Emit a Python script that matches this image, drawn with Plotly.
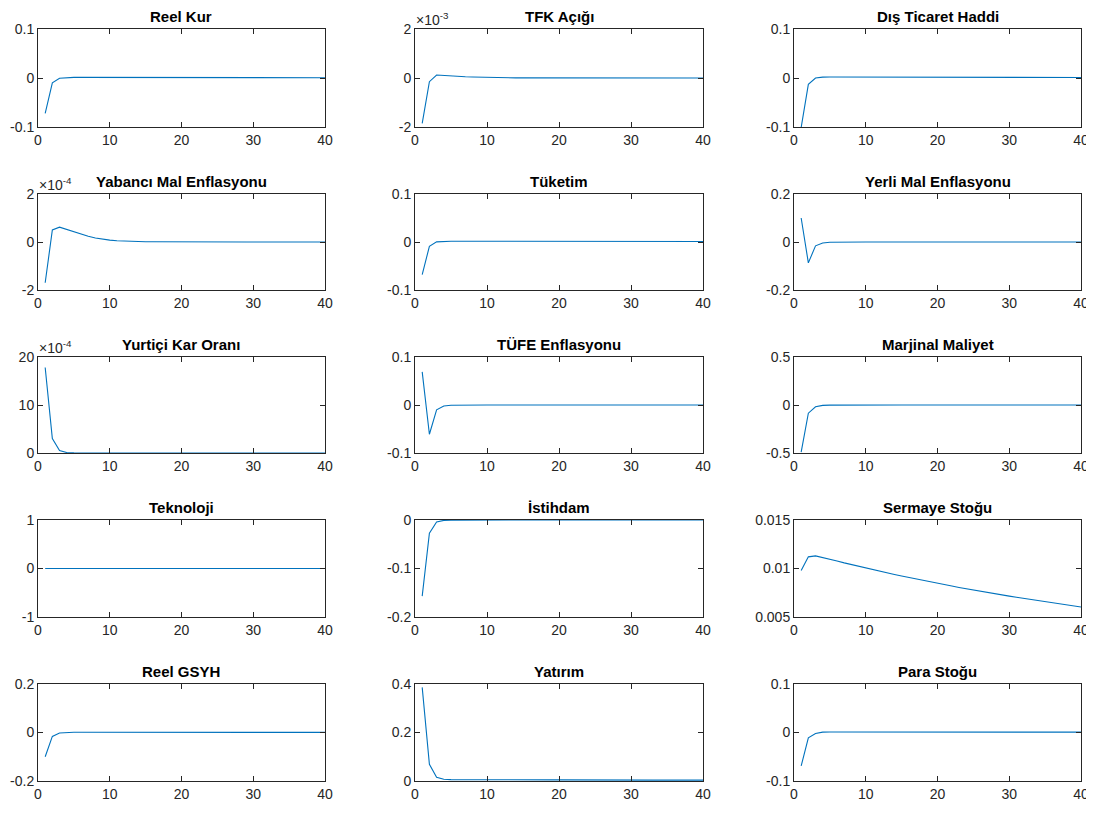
import plotly.graph_objects as go

periods = list(range(1, 41))

titles = ["Reel Kur", "TFK Açığı", "Dış Ticaret Haddi",
          "Yabancı Mal Enflasyonu", "Tüketim", "Yerli Mal Enflasyonu",
          "Yurtiçi Kar Oranı", "TÜFE Enflasyonu", "Marjinal Maliyet",
          "Teknoloji", "İstihdam", "Sermaye Stoğu",
          "Reel GSYH", "Yatırım", "Para Stoğu"]

reel_kur = [-0.072, -0.010, -0.0005, 0.0010,
            0.0012, 0.0012, 0.0012, 0.0012, 0.0012, 0.0012,
            0.0011, 0.0011, 0.0011, 0.0011, 0.0011,
            0.0010, 0.0010, 0.0010, 0.0010, 0.0010,
            0.0009, 0.0009, 0.0009, 0.0009, 0.0009,
            0.0008, 0.0008, 0.0008, 0.0008, 0.0008,
            0.0007, 0.0007, 0.0007, 0.0007, 0.0007,
            0.0006, 0.0006, 0.0006, 0.0006, 0.0006]

tfk_acigi = [-0.00185, -0.00015, 0.00012, 0.00011, 0.00009, 0.00007, 0.00005, 0.00004,
             0.00003, 0.00002, 0.000015, 0.00001, 0.000008, 0.000005, 0.000004, 0.000003,
             0.000002, 0.000001, 0.0, 0.0, 0.0, 0.0, 0.0, 0.0, 0.0, 0.0, 0.0, 0.0,
             0.0, 0.0, 0.0, 0.0, 0.0, 0.0, 0.0, 0.0, 0.0, 0.0, 0.0, 0.0]

dis_ticaret = [-0.101, -0.013, 0.0, 0.0018,
               0.0020, 0.0020, 0.0020, 0.0020,
               0.0019, 0.0019, 0.0019, 0.0019,
               0.0018, 0.0018, 0.0018,
               0.0017, 0.0017, 0.0017,
               0.0016, 0.0016, 0.0016,
               0.0015, 0.0015, 0.0015,
               0.0014, 0.0014, 0.0014,
               0.0013, 0.0013, 0.0013,
               0.0012, 0.0012, 0.0012,
               0.0011, 0.0011, 0.0011, 0.0011,
               0.0010, 0.0010, 0.0010]

yabanci_mal = [-1.7e-4, 0.50e-4, 0.62e-4, 0.52e-4, 0.42e-4, 0.32e-4, 0.24e-4, 0.17e-4,
               0.12e-4, 0.08e-4, 0.055e-4, 0.038e-4, 0.026e-4, 0.018e-4, 0.012e-4, 0.008e-4,
               0.005e-4, 0.003e-4, 0.002e-4, 0.001e-4, 0.0005e-4, 0.0, 0.0, 0.0, 0.0, 0.0,
               0.0, 0.0, 0.0, 0.0, 0.0, 0.0, 0.0, 0.0, 0.0, 0.0, 0.0, 0.0, 0.0, 0.0]

tuketim = [-0.068, -0.009, 0.0002, 0.0015,
           0.0016, 0.0016, 0.0016, 0.0016, 0.0016, 0.0016,
           0.0015, 0.0015, 0.0015, 0.0015, 0.0015, 0.0015,
           0.0014, 0.0014, 0.0014, 0.0014, 0.0014, 0.0014,
           0.0013, 0.0013, 0.0013, 0.0013, 0.0013, 0.0013,
           0.0012, 0.0012, 0.0012, 0.0012, 0.0012, 0.0012,
           0.0011, 0.0011, 0.0011, 0.0011, 0.0011, 0.0011]

yerli_mal = [0.100, -0.087, -0.016, -0.004, -0.001, -0.0003, -0.0001, 0.0,
             0.0, 0.0, 0.0, 0.0, 0.0, 0.0, 0.0, 0.0, 0.0, 0.0, 0.0, 0.0,
             0.0, 0.0, 0.0, 0.0, 0.0, 0.0, 0.0, 0.0, 0.0, 0.0,
             0.0, 0.0, 0.0, 0.0, 0.0, 0.0, 0.0, 0.0, 0.0, 0.0]

yurtici_kar = [17.8e-4, 3.0e-4, 0.5e-4, 0.1e-4, 0.02e-4, 0.005e-4, 0.0, 0.0,
               0.0, 0.0, 0.0, 0.0, 0.0, 0.0, 0.0, 0.0, 0.0, 0.0, 0.0, 0.0,
               0.0, 0.0, 0.0, 0.0, 0.0, 0.0, 0.0, 0.0, 0.0, 0.0,
               0.0, 0.0, 0.0, 0.0, 0.0, 0.0, 0.0, 0.0, 0.0, 0.0]

tufe = [0.069, -0.061, -0.010, -0.002, -0.0005, -0.0001, 0.0, 0.0,
        0.0, 0.0, 0.0, 0.0, 0.0, 0.0, 0.0, 0.0, 0.0, 0.0, 0.0, 0.0,
        0.0, 0.0, 0.0, 0.0, 0.0, 0.0, 0.0, 0.0, 0.0, 0.0,
        0.0, 0.0, 0.0, 0.0, 0.0, 0.0, 0.0, 0.0, 0.0, 0.0]

marjinal_maliyet = [-0.49, -0.085, -0.018, -0.004, -0.001, -0.0002, 0.0, 0.0,
                    0.0, 0.0, 0.0, 0.0, 0.0, 0.0, 0.0, 0.0, 0.0, 0.0, 0.0, 0.0,
                    0.0, 0.0, 0.0, 0.0, 0.0, 0.0, 0.0, 0.0, 0.0, 0.0,
                    0.0, 0.0, 0.0, 0.0, 0.0, 0.0, 0.0, 0.0, 0.0, 0.0]

teknoloji = [0.0, 0.0, 0.0, 0.0, 0.0, 0.0, 0.0, 0.0, 0.0, 0.0,
             0.0, 0.0, 0.0, 0.0, 0.0, 0.0, 0.0, 0.0, 0.0, 0.0,
             0.0, 0.0, 0.0, 0.0, 0.0, 0.0, 0.0, 0.0, 0.0, 0.0,
             0.0, 0.0, 0.0, 0.0, 0.0, 0.0, 0.0, 0.0, 0.0, 0.0]

istihdam = [-0.157, -0.027, -0.004, -0.0008, -0.0002, 0.0, 0.0, 0.0,
            0.0, 0.0, 0.0, 0.0, 0.0, 0.0, 0.0, 0.0, 0.0, 0.0, 0.0, 0.0,
            0.0, 0.0, 0.0, 0.0, 0.0, 0.0, 0.0, 0.0, 0.0, 0.0,
            0.0, 0.0, 0.0, 0.0, 0.0, 0.0, 0.0, 0.0, 0.0, 0.0]

sermaye_stogu = [0.0098, 0.0112, 0.01130, 0.01115, 0.01096, 0.01077, 0.01058, 0.01040,
                 0.01022, 0.01005, 0.00988, 0.00971, 0.00955, 0.00939, 0.00923, 0.00907,
                 0.00892, 0.00877, 0.00862, 0.00847, 0.00833, 0.00819, 0.00805, 0.00791,
                 0.00778, 0.00765, 0.00752, 0.00739, 0.00727, 0.00715, 0.00703, 0.00691,
                 0.00679, 0.00668, 0.00657, 0.00646, 0.00635, 0.00624, 0.00613, 0.00603]

reel_gsyh = [-0.100, -0.016, -0.002, 0.0006,
             0.0008, 0.0008, 0.0008, 0.0008, 0.0008, 0.0008,
             0.0007, 0.0007, 0.0007, 0.0007, 0.0007, 0.0007, 0.0007, 0.0007, 0.0007, 0.0007,
             0.0006, 0.0006, 0.0006, 0.0006, 0.0006, 0.0006, 0.0006, 0.0006, 0.0006, 0.0006,
             0.0005, 0.0005, 0.0005, 0.0005, 0.0005, 0.0005, 0.0005, 0.0005, 0.0005, 0.0005]

yatirim = [0.386, 0.069, 0.015, 0.007, 0.0055, 0.0052,
           0.0050, 0.0050, 0.0050, 0.0050,
           0.0048, 0.0048, 0.0048, 0.0048, 0.0048,
           0.0045, 0.0045, 0.0045, 0.0045, 0.0045,
           0.0042, 0.0042, 0.0042, 0.0042, 0.0042,
           0.0040, 0.0040, 0.0040, 0.0040, 0.0040,
           0.0037, 0.0037, 0.0037, 0.0037, 0.0037,
           0.0035, 0.0035, 0.0035, 0.0035, 0.0035]

para_stogu = [-0.069, -0.011, -0.002, 0.0008,
              0.0010, 0.0010, 0.0010, 0.0010, 0.0010, 0.0010,
              0.0009, 0.0009, 0.0009, 0.0009, 0.0009, 0.0009, 0.0009, 0.0009, 0.0009, 0.0009,
              0.0008, 0.0008, 0.0008, 0.0008, 0.0008, 0.0008, 0.0008, 0.0008, 0.0008, 0.0008,
              0.0007, 0.0007, 0.0007, 0.0007, 0.0007, 0.0007, 0.0007, 0.0007, 0.0007, 0.0007]

series = [reel_kur, tfk_acigi, dis_ticaret, yabanci_mal, tuketim, yerli_mal,
          yurtici_kar, tufe, marjinal_maliyet, teknoloji, istihdam, sermaye_stogu,
          reel_gsyh, yatirim, para_stogu]

# y-axis tick values and labels per panel
y_tickvals = [[-0.1, 0, 0.1], [-0.002, 0, 0.002], [-0.1, 0, 0.1],
              [-2e-4, 0, 2e-4], [-0.1, 0, 0.1], [-0.2, 0, 0.2],
              [0, 10e-4, 20e-4], [-0.1, 0, 0.1], [-0.5, 0, 0.5],
              [-1, 0, 1], [-0.2, -0.1, 0], [0.005, 0.01, 0.015],
              [-0.2, 0, 0.2], [0, 0.2, 0.4], [-0.1, 0, 0.1]]
y_ticktext = [["-0.1", "0", "0.1"], ["-2", "0", "2"], ["-0.1", "0", "0.1"],
              ["-2", "0", "2"], ["-0.1", "0", "0.1"], ["-0.2", "0", "0.2"],
              ["0", "10", "20"], ["-0.1", "0", "0.1"], ["-0.5", "0", "0.5"],
              ["-1", "0", "1"], ["-0.2", "-0.1", "0"], ["0.005", "0.01", "0.015"],
              ["-0.2", "0", "0.2"], ["0", "0.2", "0.4"], ["-0.1", "0", "0.1"]]
exponents = [None, "-3", None, "-4", None, None, "-4", None, None,
             None, None, None, None, None, None]
x_tickvals = [0, 10, 20, 30, 40]
x_ticktext = ["0", "10", "20", "30", "40"]

# page offset of the figure (default body margin)
OFF = 8
W, H = 1094 - OFF, 817 - OFF
col_px = [(38, 325), (415, 703), (794, 1081)]
row_px = [(29, 127), (194, 290), (357, 453), (520, 617), (684, 781)]

FONT = "Liberation Sans Narrow, Arial Narrow, Liberation Sans, Arial, sans-serif"
AX_COLOR = "#262626"
LINE_COLOR = "#0072BD"

fig = go.Figure()
annotations = []
layout_axes = {}

for i, (title, vals) in enumerate(zip(titles, series)):
    r, c = divmod(i, 3)
    n = i + 1
    xs = "" if n == 1 else str(n)
    x0, x1 = col_px[c]
    t, b = row_px[r]
    xdom = [(x0 - OFF) / W, (x1 - OFF) / W]
    ydom = [1 - (b - OFF) / H, 1 - (t - OFF) / H]

    fig.add_trace(go.Scatter(x=periods, y=vals, mode="lines",
                             line=dict(color=LINE_COLOR, width=1.1),
                             xaxis="x" + xs, yaxis="y" + xs,
                             showlegend=False, cliponaxis=True))

    tv = y_tickvals[i]
    common = dict(showline=True, linecolor=AX_COLOR, linewidth=1, mirror="ticks",
                  ticks="inside", ticklen=5, tickcolor=AX_COLOR, tickwidth=1,
                  showgrid=False, zeroline=False, automargin=False,
                  tickfont=dict(family=FONT, size=14, color=AX_COLOR))
    layout_axes["xaxis" + xs] = dict(domain=xdom, anchor="y" + xs, range=[0, 40],
                                     tickmode="array", tickvals=x_tickvals,
                                     ticktext=x_ticktext, **common)
    layout_axes["yaxis" + xs] = dict(domain=ydom, anchor="x" + xs,
                                     range=[min(tv), max(tv)],
                                     tickmode="array", tickvals=tv,
                                     ticktext=y_ticktext[i], **common)

    annotations.append(dict(text="<b>" + title + "</b>", xref="paper", yref="paper",
                            x=(xdom[0] + xdom[1]) / 2, y=ydom[1],
                            xanchor="center", yanchor="bottom", yshift=3,
                            borderpad=0, showarrow=False,
                            font=dict(family=FONT, size=15, color="#000000")))
    if exponents[i]:
        annotations.append(dict(text="×10<sup>" + exponents[i] + "</sup>",
                                xref="paper", yref="paper",
                                x=xdom[0], y=ydom[1], xanchor="left",
                                yanchor="bottom", xshift=0, yshift=0,
                                borderpad=0, showarrow=False,
                                font=dict(family=FONT, size=14, color=AX_COLOR)))

fig.update_layout(width=W, height=H, margin=dict(l=0, r=0, t=0, b=0, autoexpand=False),
                  paper_bgcolor="white", plot_bgcolor="white",
                  annotations=annotations, **layout_axes)

fig.write_html("out.html")
